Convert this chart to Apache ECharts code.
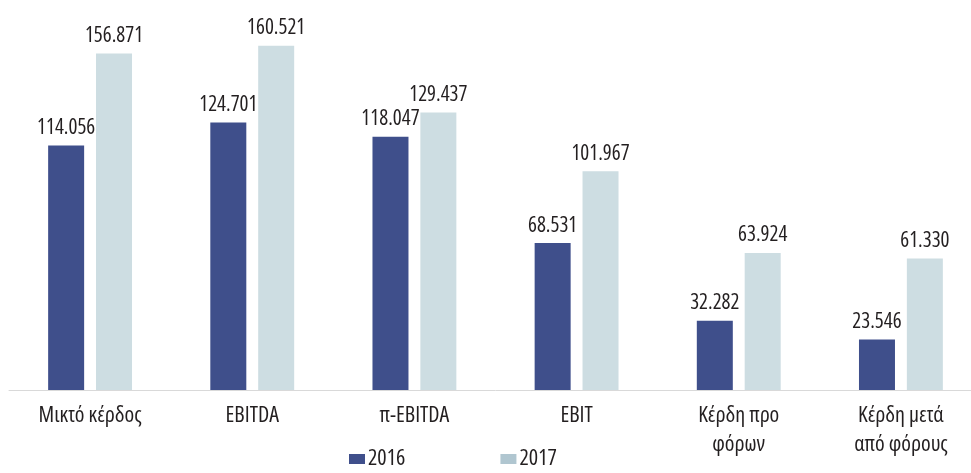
<!DOCTYPE html>
<html>
<head>
<meta charset="utf-8">
<script src="https://cdn.jsdelivr.net/npm/echarts@6/dist/echarts.min.js"></script>
<style>
  html, body { margin: 0; padding: 0; background: #fff; overflow: hidden; }
  /* the category band runs a little past the right edge of the view */
  #chart { width: 982px; height: 473px; }
</style>
</head>
<body>
<div id="chart"></div>
<script>
// Categories and yearly values (in euros, shown with Greek thousands separator)
const categories = ['Μικτό κέρδος', 'EBITDA', 'π-EBITDA', 'EBIT', 'Κέρδη προ\nφόρων', 'Κέρδη μετά\nαπό φόρους'];
const seriesNames = ['2016', '2017'];
const values2016 = [114056, 124701, 118047, 68531, 32282, 23546];
const values2017 = [156871, 160521, 129437, 101967, 63924, 61330];

// Narrow face: the width axis of the variable sans fonts, set through the font shorthand
const FONT = "'Open Sans', 'Noto Sans', sans-serif";
const STRETCH = 'semi-condensed';
const TEXT = '#231f20';
const COLOR_2016 = '#3f4f8b';
const COLOR_2017 = '#cddde2';
const LEGEND_2017 = '#b0c6d0';

function fmt(v) {
  return String(v).replace(/\B(?=(\d{3})+(?!\d))/g, '.');
}

const textBase = { fontFamily: FONT, fontStyle: STRETCH, color: TEXT };

const chart = echarts.init(document.getElementById('chart'), null, { renderer: 'canvas' });

chart.setOption({
  animation: false,
  backgroundColor: '#ffffff',
  grid: { left: 9, right: 0, top: 4, bottom: 83, containLabel: false },
  legend: {
    left: 349,
    top: 448,
    padding: 0,
    itemWidth: 16,
    itemHeight: 10,
    itemGap: 95,
    icon: 'rect',
    textStyle: Object.assign({}, textBase, { fontSize: 22, padding: [0, 0, 0, -2] }),
    data: [
      { name: seriesNames[0], itemStyle: { color: COLOR_2016 } },
      { name: seriesNames[1], itemStyle: { color: LEGEND_2017 } }
    ]
  },
  xAxis: {
    type: 'category',
    data: categories,
    axisLine: { show: true, lineStyle: { color: '#d9d9d9', width: 1 } },
    axisTick: { show: false },
    axisLabel: Object.assign({}, textBase, {
      fontSize: 22,
      margin: 11,
      lineHeight: 29,
      interval: 0
    })
  },
  yAxis: {
    type: 'value',
    min: 0,
    max: 180000,
    show: false,
    splitLine: { show: false }
  },
  series: [
    {
      name: seriesNames[0],
      type: 'bar',
      data: values2016,
      barWidth: 36,
      barGap: '33%',
      itemStyle: { color: COLOR_2016 },
      label: Object.assign({}, textBase, {
        show: true,
        position: 'top',
        distance: 7,
        fontSize: 21,
        formatter: p => fmt(p.value)
      })
    },
    {
      name: seriesNames[1],
      type: 'bar',
      data: values2017,
      barWidth: 36,
      itemStyle: { color: COLOR_2017 },
      label: Object.assign({}, textBase, {
        show: true,
        position: 'top',
        distance: 7,
        fontSize: 21,
        formatter: p => fmt(p.value)
      })
    }
  ]
});
</script>
</body>
</html>
